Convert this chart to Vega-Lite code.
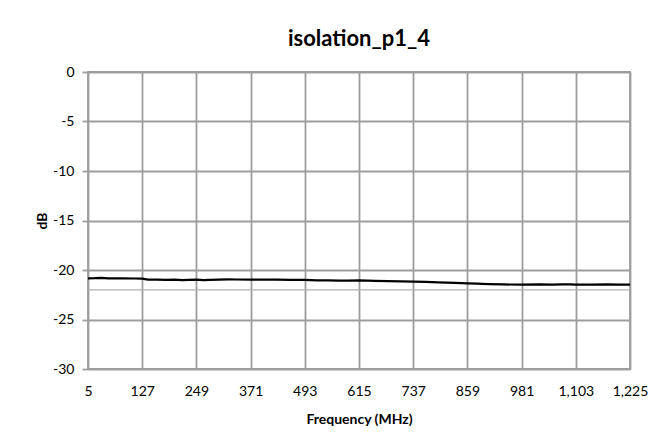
{
  "$schema": "https://vega.github.io/schema/vega-lite/v6.json",
  "autosize": {"type": "none"},
  "width": 542,
  "height": 297,
  "padding": {"left": 88, "top": 72, "right": 35, "bottom": 70},
  "background": "white",
  "title": {
    "text": "isolation_p1_4",
    "font": "Lato",
    "fontSize": 22,
    "fontWeight": "bold",
    "color": "#000000",
    "anchor": "middle",
    "offset": 14
  },
  "config": {
    "view": {"stroke": "#9d9d9d", "strokeWidth": 1.8},
    "axis": {
      "labelFont": "Lato",
      "labelFontSize": 14,
      "labelColor": "#000000",
      "titleFont": "Lato",
      "titleFontSize": 14,
      "titleFontWeight": "bold",
      "titleColor": "#000000",
      "gridColor": "#9d9d9d",
      "gridWidth": 1.8,
      "gridOpacity": 1,
      "domain": false
    }
  },
  "datasets": {
    "meas": [
      {"f": 5, "db": -20.84},
      {"f": 20, "db": -20.83},
      {"f": 36, "db": -20.8},
      {"f": 50, "db": -20.84},
      {"f": 80, "db": -20.85},
      {"f": 110, "db": -20.86},
      {"f": 127, "db": -20.88},
      {"f": 140, "db": -20.97},
      {"f": 160, "db": -20.98},
      {"f": 180, "db": -20.99},
      {"f": 200, "db": -20.98},
      {"f": 217, "db": -21.03},
      {"f": 232, "db": -20.99},
      {"f": 249, "db": -20.98},
      {"f": 265, "db": -21.02},
      {"f": 280, "db": -20.99},
      {"f": 300, "db": -20.97},
      {"f": 320, "db": -20.95},
      {"f": 340, "db": -20.96},
      {"f": 371, "db": -20.98},
      {"f": 400, "db": -20.97},
      {"f": 430, "db": -20.98},
      {"f": 460, "db": -20.99},
      {"f": 493, "db": -21.0},
      {"f": 520, "db": -21.05},
      {"f": 545, "db": -21.04},
      {"f": 570, "db": -21.07},
      {"f": 590, "db": -21.08},
      {"f": 615, "db": -21.05},
      {"f": 651, "db": -21.1},
      {"f": 680, "db": -21.12},
      {"f": 710, "db": -21.15},
      {"f": 737, "db": -21.18},
      {"f": 765, "db": -21.2},
      {"f": 793, "db": -21.24},
      {"f": 831, "db": -21.31},
      {"f": 859, "db": -21.35},
      {"f": 880, "db": -21.38},
      {"f": 906, "db": -21.42},
      {"f": 940, "db": -21.46},
      {"f": 981, "db": -21.48},
      {"f": 1022, "db": -21.45},
      {"f": 1050, "db": -21.48},
      {"f": 1074, "db": -21.45},
      {"f": 1090, "db": -21.46},
      {"f": 1103, "db": -21.48},
      {"f": 1140, "db": -21.48},
      {"f": 1175, "db": -21.45},
      {"f": 1200, "db": -21.48},
      {"f": 1225, "db": -21.48}
    ],
    "limit": [
      {"f": 5, "db": -22},
      {"f": 1225, "db": -22}
    ]
  },
  "encoding": {
    "x": {
      "field": "f",
      "type": "quantitative",
      "scale": {"domain": [5, 1225], "nice": false, "zero": false},
      "axis": {
        "title": "Frequency (MHz)",
        "values": [5, 127, 249, 371, 493, 615, 737, 859, 981, 1103, 1225],
        "format": ",.0f",
        "ticks": false,
        "labelPadding": 15,
        "titlePadding": 14,
        "labelFlush": false,
        "labelOverlap": false
      }
    },
    "y": {
      "field": "db",
      "type": "quantitative",
      "scale": {"domain": [-30, 0], "nice": false, "zero": false},
      "axis": {
        "title": "dB",
        "values": [-30, -25, -20, -15, -10, -5, 0],
        "labelExpr": "'' + datum.value",
        "ticks": true,
        "tickSize": 6,
        "tickColor": "#9d9d9d",
        "tickWidth": 1.8,
        "labelPadding": 8,
        "titlePadding": 3
      }
    }
  },
  "layer": [
    {
      "data": {"name": "limit"},
      "mark": {"type": "line", "color": "#b0b0b0", "strokeWidth": 1.2}
    },
    {
      "data": {"name": "meas"},
      "mark": {"type": "line", "color": "#000000", "strokeWidth": 2.2}
    }
  ]
}
